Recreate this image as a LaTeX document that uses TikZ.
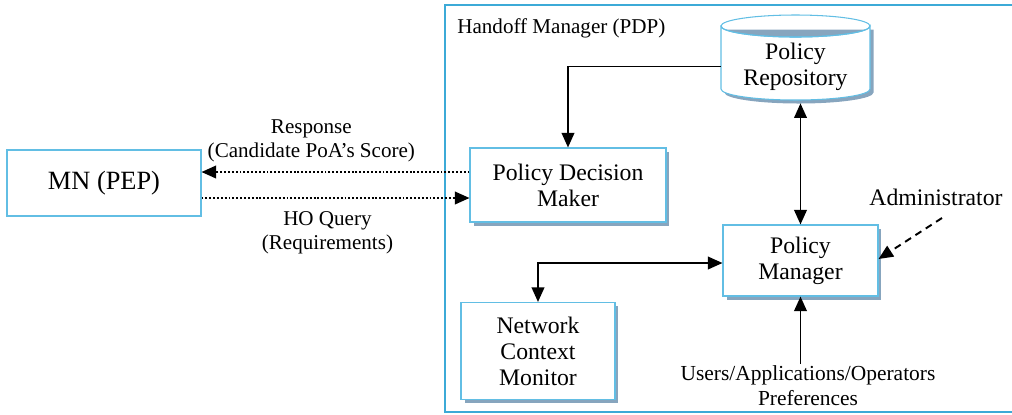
\documentclass[tikz,border=0pt]{standalone}
\usepackage{fontspec}
\setmainfont{Liberation Serif}
\usetikzlibrary{arrows.meta, positioning, shapes.geometric, shadows, calc}

\definecolor{boxblue}{RGB}{98,190,228}
\definecolor{frameblue}{RGB}{60,170,215}
\definecolor{shadeblue}{RGB}{135,165,190}

\begin{document}
\begin{tikzpicture}[
    x=0.02cm, y=-0.02cm,
    % box styles
    block/.style={draw=boxblue, line width=0.6pt, fill=white, align=center,
                  font=\fontsize{13.5}{14.8}\selectfont, inner sep=2pt},
    shadowed/.style={block, drop shadow={shadow xshift=0.07cm, shadow yshift=-0.07cm,
                  fill=shadeblue, opacity=1}},
    repotext/.style={align=center, font=\fontsize{13.5}{14.8}\selectfont, inner sep=0pt,
                  minimum width=2.98cm, minimum height=1.34cm},
    pdpframe/.style={draw=frameblue, line width=0.9pt, minimum width=11.6cm,
                  minimum height=8.14cm, anchor=north west, inner sep=0pt},
    % text styles
    note/.style={align=center, font=\fontsize{12}{13.6}\selectfont, inner sep=1pt},
    % connector styles
    arr/.style={line width=1.1pt, -{Triangle[length=0.29cm, width=0.25cm]}},
    biarr/.style={line width=1.1pt, {Triangle[length=0.29cm, width=0.25cm]}-{Triangle[length=0.29cm, width=0.25cm]}},
    dotarr/.style={arr, dash pattern=on 1.1pt off 1.1pt},
    dasharr/.style={arr, dash pattern=on 4pt off 3pt}
]
\useasboundingbox (0,0) rectangle (1012,414);

% Handoff manager frame
\node[pdpframe] (pdp) at (444,4) {};
\node[anchor=base west, font=\fontsize{12}{14}\selectfont, inner sep=0pt] (pdptitle) at (457,33) {Handoff Manager (PDP)};

% Policy repository drum (shadow, body, top)
\fill[shadeblue, xshift=0.07cm, yshift=-0.07cm] (721,26) -- (721,89)
    arc[start angle=180, end angle=0, x radius=74.5, y radius=11] -- (870,26) -- cycle;
\filldraw[fill=white, draw=boxblue, line width=0.6pt] (721,26) -- (721,89)
    arc[start angle=180, end angle=0, x radius=74.5, y radius=11] -- (870,26)
    arc[start angle=0, end angle=180, x radius=74.5, y radius=11] -- cycle;
\draw[boxblue, line width=0.6pt] (795.5,26) ellipse[x radius=74.5, y radius=11];
\node[repotext] (repo) at (795.5,66.5) {Policy\\Repository};

% Blocks
\node[shadowed, minimum width=3.92cm, minimum height=1.48cm] (pdm) at (568,185) {Policy Decision\\Maker};
\node[block, minimum width=3.88cm, minimum height=1.32cm, font=\fontsize{15}{17}\selectfont] (mn) at (104,183) {MN (PEP)};
\node[shadowed, minimum width=3.1cm, minimum height=1.42cm] (pm) at (800.5,260.5) {Policy\\Manager};
\node[shadowed, minimum width=3.08cm, minimum height=1.94cm] (ncm) at (538,351) {Network\\Context\\Monitor};

% Outside inputs
\node[note, font=\fontsize{13.5}{15}\selectfont] (admin) at (936,197) {Administrator};
\coordinate (admstart) at (942,218);
\node[note, anchor=north, font=\fontsize{12.2}{13.8}\selectfont] (prefs) at (808,364) {Users/Applications/Operators\\Preferences};

% Connectors inside the PDP
\draw[arr] (repo.west) -| (pdm.north);
\draw[biarr] ([yshift=-0.06cm]repo.south -| pm.north) -- (pm.north);
\draw[biarr] (ncm.north) |- ([yshift=-0.05cm]pm.west);
\draw[arr] (prefs.north -| pm.south) -- (pm.south);
\draw[dasharr] (admstart) -- ([yshift=0.03cm]pm.east);

% MN <-> PDM messages
\draw[dotarr] ([yshift=0.26cm]pdm.west) -- ([yshift=0.26cm]pdm.west -| mn.east)
    node[note, pos=0.59, above=4pt] (resp) {Response\\(Candidate PoA’s Score)};
\draw[dotarr] ([yshift=-0.26cm]pdm.west -| mn.east) -- ([yshift=-0.26cm]pdm.west)
    node[note, pos=0.47, below=6pt] (query) {HO Query\\(Requirements)};

\end{tikzpicture}
\end{document}
